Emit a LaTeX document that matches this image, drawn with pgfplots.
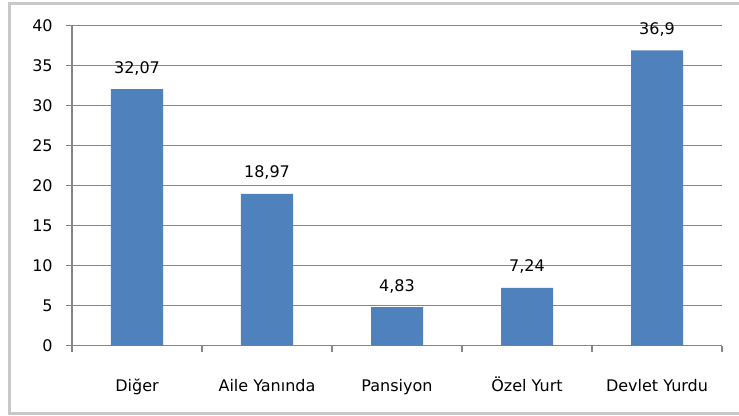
\documentclass[border=0pt]{standalone}
\usepackage{pgfplots}
\pgfplotsset{compat=1.18}
\usepackage{fontspec}
\setmainfont{DejaVu Sans}
\definecolor{barblue}{RGB}{79,129,189}
\definecolor{gridgray}{RGB}{134,134,134}
\definecolor{framegray}{RGB}{200,200,200}
\begin{document}
\begin{tikzpicture}
\useasboundingbox (-54pt,-52.725pt) rectangle (500.25pt,259.275pt);
\fill[white] (-54pt,-52.725pt) rectangle (500.25pt,259.275pt);
\draw[framegray, line width=1.6pt] (-46.9pt,-50.85pt) rectangle (503pt,256.65pt);
\begin{axis}[
  at={(0pt,0pt)}, anchor=south west,
  scale only axis,
  width=487.5pt, height=240pt,
  xmin=-0.5, xmax=4.5,
  ymin=0, ymax=40,
  ytick={0,5,...,40},
  xtick={0,1,2,3,4},
  xticklabels={Diğer, Aile Yanında, Pansiyon, Özel Yurt, Devlet Yurdu},
  minor xtick={-0.5,0.5,1.5,2.5,3.5,4.5},
  axis x line*=bottom,
  axis y line*=left,
  axis line style={gridgray, line width=0.9pt, -},
  tick align=outside,
  major tick length=4.5pt,
  minor tick length=4.5pt,
  major x tick style={draw=none},
  minor x tick style={gridgray, line width=0.9pt},
  major y tick style={gridgray, line width=0.9pt},
  ymajorgrids,
  major grid style={gridgray, line width=0.9pt},
  /pgf/number format/assume math mode=true,
  ticklabel style={font=\fontsize{12}{14}\selectfont, text=black},
  yticklabel style={anchor=east, inner sep=0pt, xshift=-9.8pt},
  xticklabel style={anchor=base, inner sep=0pt, yshift=-30pt},
  bar width=39pt,
  ybar,
  nodes near coords,
  nodes near coords style={font=\fontsize{12}{14}\selectfont, text=black, anchor=base, inner sep=0pt, yshift=12pt,
    /pgf/number format/use comma, /pgf/number format/assume math mode=true},
  clip=false,
]
\addplot[fill=barblue, draw=none] coordinates {(0,32.07) (1,18.97) (2,4.83) (3,7.24) (4,36.9)};
\end{axis}
\end{tikzpicture}
\end{document}
